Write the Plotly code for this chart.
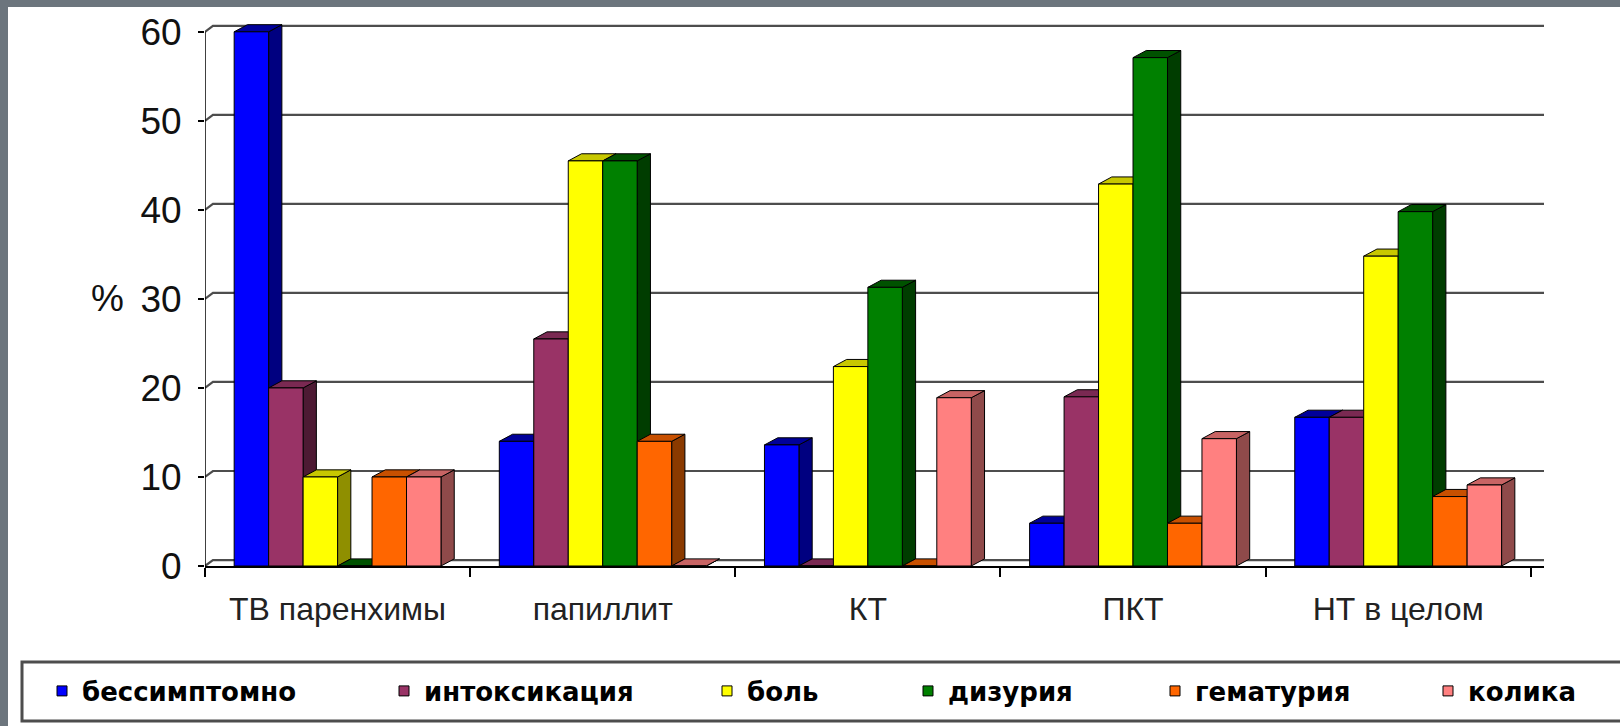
import plotly.graph_objects as go

# ---- data -------------------------------------------------------------
categories = ["ТВ паренхимы", "папиллит", "КТ", "ПКТ", "НТ в целом"]
series_names = ["бессимптомно", "интоксикация", "боль", "дизурия", "гематурия", "колика"]

asymptomatic = [60, 14, 13.6, 4.8, 16.7]
intoxication = [20, 25.5, 0, 19, 16.7]
pain = [10, 45.5, 22.4, 42.9, 34.8]
dysuria = [0, 45.5, 31.3, 57.1, 39.8]
hematuria = [10, 14, 0, 4.8, 7.8]
colic = [10, 0, 18.9, 14.3, 9.1]

y_ticks = [0, 10, 20, 30, 40, 50, 60]

# ---- styling ----------------------------------------------------------
series_values = [asymptomatic, intoxication, pain, dysuria, hematuria, colic]
front_colors = ["#0000FF", "#993366", "#FFFF00", "#008000", "#FF6600", "#FF8080"]
side_colors = ["#000080", "#4d1a33", "#8f8f00", "#003d00", "#8a3a00", "#8f4a4a"]
top_colors = ["#00009a", "#7a2952", "#c8c800", "#005200", "#c85000", "#c86464"]

W, H = 1620, 726
L, R, T, B = 205, 76, 14, 160
X_RANGE = [-0.5, 4.55]
Y_RANGE = [0, 62]

BAR_W = 0.13          # front face width (category units)
DX, DY = 0.05, 0.8    # column depth offset (x units, y units)
WALL_DX, WALL_DY = 0.03, 0.67

plot_w = W - L - R
plot_h = H - T - B


def px_x(px):
    return (px - L) / plot_w


def px_y(py):
    return (H - B - py) / plot_h


fig = go.Figure()

# back-wall gridlines, joined to the value axis by a short slanted stroke
gx, gy = [], []
for v in y_ticks:
    gx += [X_RANGE[0], X_RANGE[0] + WALL_DX, X_RANGE[1], None]
    gy += [v, v + WALL_DY, v + WALL_DY, None]
fig.add_trace(go.Scatter(x=gx, y=gy, mode="lines", line=dict(color="#4d4d4d", width=2.2),
                         hoverinfo="skip", showlegend=False))

n_series = len(series_values)
for i, vals in enumerate(series_values):
    fx, fy, sx, sy, tx, ty = [], [], [], [], [], []
    for c, v in enumerate(vals):
        x0 = c - n_series / 2 * BAR_W + i * BAR_W
        x1 = x0 + BAR_W
        fx += [x0, x1, x1, x0, x0, None]
        fy += [0, 0, v, v, 0, None]
        sx += [x1, x1 + DX, x1 + DX, x1, x1, None]
        sy += [0, DY, v + DY, v, 0, None]
        tx += [x0, x1, x1 + DX, x0 + DX, x0, None]
        ty += [v, v, v + DY, v + DY, v, None]
    for xs, ys, col in ((sx, sy, side_colors[i]), (tx, ty, top_colors[i]), (fx, fy, front_colors[i])):
        fig.add_trace(go.Scatter(x=xs, y=ys, mode="lines", fill="toself", fillcolor=col,
                                 line=dict(color="black", width=1), hoverinfo="skip",
                                 showlegend=False))

# legend entries, each in its own legend so they sit along the bottom box
legend_text_px = [84, 426, 749, 950, 1197, 1470]
legend_y_px = 691
for i, name in enumerate(series_names):
    key = "legend" if i == 0 else f"legend{i + 1}"
    fig.add_trace(go.Scatter(x=[None], y=[None], mode="markers", name=name,
                             marker=dict(symbol="square", size=10, color=front_colors[i],
                                         line=dict(color="black", width=1)),
                             legend=key, showlegend=True))

legend_common = dict(
    orientation="h", xanchor="left", yanchor="middle", bgcolor="rgba(0,0,0,0)",
    borderwidth=0, itemwidth=30,
    font=dict(family="DejaVu Sans", size=26, color="black", weight="bold"),
)
legends = {}
for i in range(n_series):
    key = "legend" if i == 0 else f"legend{i + 1}"
    legends[key] = dict(legend_common, x=px_x(legend_text_px[i] - 42), y=px_y(legend_y_px))

shapes = [
    # white panel inside the grey frame
    dict(type="rect", xref="paper", yref="paper", x0=px_x(8), x1=px_x(1640),
         y0=px_y(740), y1=px_y(7), fillcolor="white", line=dict(width=0), layer="below"),
    # legend box
    dict(type="rect", xref="paper", yref="paper", x0=px_x(22), x1=px_x(1640),
         y0=px_y(721), y1=px_y(662), fillcolor="rgba(0,0,0,0)",
         line=dict(color="#4d4d4d", width=3), layer="below"),
    # value axis line
    dict(type="line", xref="x", yref="y", x0=X_RANGE[0], x1=X_RANGE[0], y0=0, y1=y_ticks[-1],
         line=dict(color="black", width=1.5), layer="above"),
]

fig.update_layout(
    width=W, height=H,
    margin=dict(l=L, r=R, t=T, b=B),
    paper_bgcolor="#6c757d",
    plot_bgcolor="rgba(0,0,0,0)",
    shapes=shapes,
    annotations=[dict(text="%", xref="paper", yref="y", x=px_x(107), y=30,
                      xanchor="center", yanchor="middle", showarrow=False,
                      font=dict(family="Liberation Sans, Arial", size=37, color="#111111"))],
    xaxis=dict(
        range=X_RANGE, tickmode="array", tickvals=list(range(len(categories))),
        ticktext=categories, ticks="", showgrid=False, zeroline=False,
        showline=True, linecolor="black", linewidth=1.5, ticklabelstandoff=14,
        tickfont=dict(family="Liberation Sans, Arial", size=32, color="#222222"),
        minor=dict(tickmode="array", tickvals=[c - 0.5 for c in range(len(categories) + 1)],
                   ticks="outside", ticklen=9, tickwidth=1.5, tickcolor="black", showgrid=False),
    ),
    yaxis=dict(
        range=Y_RANGE, tickmode="array", tickvals=y_ticks, ticks="outside", ticklen=6,
        tickwidth=1.5, tickcolor="black", showgrid=False, zeroline=False, showline=False,
        ticklabelstandoff=9,
        tickfont=dict(family="Liberation Sans, Arial", size=37, color="#111111"),
    ),
    **legends,
)

fig.write_html("out.html")
